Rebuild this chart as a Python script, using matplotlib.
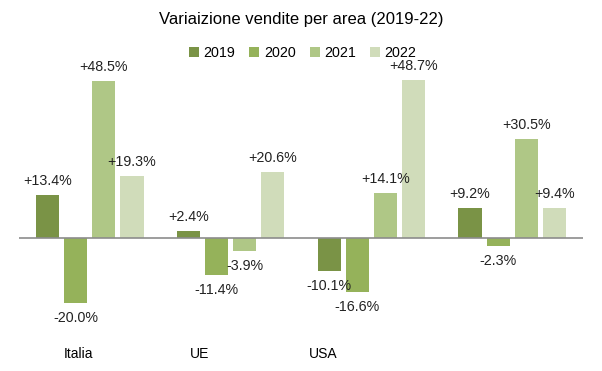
import matplotlib.pyplot as plt
import numpy as np

plt.rcParams.update({'font.family': ['Liberation Sans', 'DejaVu Sans'], 'font.size': 10})

areas = ["Italia", "UE", "USA", ""]
years = ["2019", "2020", "2021", "2022"]
v2019 = [13.4, 2.4, -10.1, 9.2]
v2020 = [-20.0, -11.4, -16.6, -2.3]
v2021 = [48.5, -3.9, 14.1, 30.5]
v2022 = [19.3, 20.6, 48.7, 9.4]
colors = ["#7a9346", "#95b25a", "#afc786", "#d0dcba"]

series = [v2019, v2020, v2021, v2022]
x = np.arange(len(areas))
width = 0.165
offsets = [-0.3, -0.1, 0.1, 0.3]

fig = plt.figure(figsize=(6.02, 3.71), dpi=100)
ax = fig.add_axes([0.032, 0.1105, 0.936, 0.6875])

for vals, off, col, yr in zip(series, offsets, colors, years):
    bars = ax.bar(x + off, vals, width, color=col, label=yr)
    for b, v in zip(bars, vals):
        dy = 14 if v >= 0 else -15
        ax.annotate(f"{v:+.1f}%", (b.get_x() + b.get_width() / 2, v),
                    xytext=(0, dy), textcoords="offset pixels",
                    ha="center", va="center", fontsize=10.3, color="#222222")

ax.axhline(0, color="#8c8c8c", lw=1.2)
ax.set_xlim(-0.5, 3.5)
ax.set_ylim(-28.3, 50.4)
for s in ax.spines.values():
    s.set_visible(False)
ax.set_yticks([])

# category labels sit a bit left of the group centres in the original
label_pos = [-0.082, 0.782, 1.655]
ax.set_xticks(label_pos)
ax.set_xticklabels(areas[:3], fontsize=10)
ax.tick_params(axis="x", length=0, pad=12)

fig.text(0.5, 0.947, "Variaizione vendite per area (2019-22)", ha="center", va="center", fontsize=12)
fig.legend(loc="center", bbox_to_anchor=(0.503, 0.857), ncol=4, frameon=False,
           handlelength=0.7, handleheight=0.7, handletextpad=0.3, columnspacing=1.0,
           fontsize=10.3)

fig.savefig("out.png", dpi=100)
